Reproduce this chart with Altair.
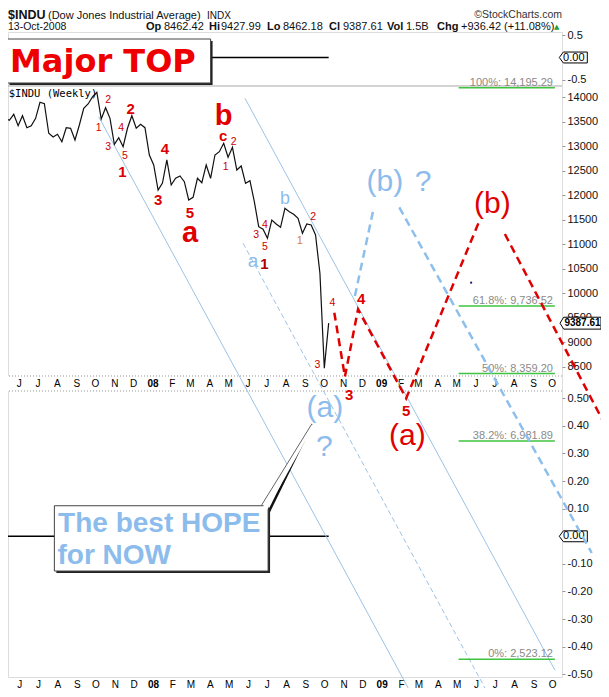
import altair as alt
import pandas as pd

# ---------------- values ----------------
FIRST_WEEK = "2007-05-14"
WEEKLY_CLOSE = [13571, 13530, 13653, 13420, 13624, 13379, 13420, 13571, 13898, 13869,
                13265, 13189, 13244, 13093, 13379, 13367, 13128, 13434, 13775, 13863,
                14006, 14102, 13557, 13788, 13571, 13040, 13175, 12991, 13367, 13624,
                13367, 13449, 13379, 12822, 12618, 12107, 12250, 12720, 12209, 12346,
                12393, 12277, 11903, 11958, 12346, 12256, 12618, 12346, 12822, 12889,
                13061, 12775, 12979, 12515, 12597, 12244, 12297, 11868, 11358, 11305,
                11121, 11494, 11413, 11345, 11733, 11664, 11611, 11529, 11223, 11413,
                11392, 11188, 10406, 8466, 9387.61]
WEEK_DATES = pd.date_range(FIRST_WEEK, periods=len(WEEKLY_CLOSE), freq="7D").strftime("%Y-%m-%d").tolist()
LAST_DATE = WEEK_DATES[-1]
LAST_CLOSE = 9387.61

FIB_LEVELS = [14195.29, 9736.52, 8359.20, 6981.89, 2523.12]
FIB_TEXT = ["100%: 14,195.29", "61.8%: 9,736.52", "50%: 8,359.20", "38.2%: 6,981.89", "0%: 2,523.12"]
FIB_FROM, FIB_TO, FIB_TEXT_AT = "2009-05-09", "2009-10-10", "2009-10-07"

CHANNEL_A = [("2007-10-11", 13604), ("2009-02-19", 1897)]
CHANNEL_B = [("2008-06-01", 13980), ("2009-10-10", 2305)]
CHANNEL_C = [("2008-05-29", 11019), ("2009-06-28", 1754)]

RED_PATH_1 = [("2008-10-22", 9602), ("2008-11-08", 8295), ("2008-11-29", 9671),
              ("2009-02-14", 7853), ("2009-06-10", 11439)]
RED_PATH_2 = [("2009-07-22", 11209), ("2010-01-01", 7247)]
BLUE_PATH_1 = [("2008-11-24", 9943), ("2008-12-24", 11733)]
BLUE_PATH_2 = [("2009-02-03", 11754), ("2009-12-08", 4695)]

SMALL_RED = [("1", "2007-10-11", 13367), ("2", "2007-10-26", 13945), ("3", "2007-10-26", 12991),
             ("4", "2007-11-16", 13367), ("5", "2007-11-22", 12807), ("2", "2008-05-14", 13093),
             ("1", "2008-05-01", 12583), ("3", "2008-06-19", 11188), ("4", "2008-07-03", 11392),
             ("5", "2008-07-03", 10949), ("2", "2008-09-18", 11550), ("3", "2008-09-25", 8534),
             ("4", "2008-10-19", 9793)]
BOLD_RED = [("1", "2007-11-18", 12481), ("2", "2007-12-01", 13761), ("3", "2008-01-14", 11903),
            ("4", "2008-01-25", 12948), ("5", "2008-03-05", 11640), ("c", "2008-04-27", 13204),
            ("4", "2008-12-04", 9875), ("3", "2008-11-15", 7921), ("5", "2009-02-14", 7600)]
BIG_RED = [("a", "2008-03-05", 11220), ("b", "2008-04-28", 13620)]
PAREN_RED = [("(a)", "2009-02-16", 7090), ("(b)", "2009-07-02", 11817)]
BLUE_BIG = [("(b)", "2009-01-11", 12277), ("?", "2009-03-13", 12275),
            ("(a)", "2008-10-07", 7649), ("?", "2008-10-06", 6863)]
BLUE_A = [("a", "2008-06-14", 10659)]
BLUE_B = [("b", "2008-08-04", 11931)]
DARK_RED = [("1", "2008-07-02", 10600)]
ORANGE = [("1", "2008-08-28", 11072)]
WEEKLY_TAG = [("$INDU (Weekly)", "2007-05-20", 14012)]
DOT = [("2009-05-29", 10214)]

MAJOR_BOX = [("2007-05-18", "2008-04-07", 14292, 15190)]
MAJOR_TEXT = [("Major TOP", "2007-05-22", 14523)]
HOPE_BOX = [("2007-08-01", "2008-07-08", 4327, 5660)]
HOPE_TEXT = [("The best HOPE", "2007-08-07", 5130), ("for NOW", "2007-08-06", 4470)]
CALLOUT_LEFT = [("2008-06-27", 5660), ("2008-09-16", 7329)]
CALLOUT_MID = [("2008-07-02", 5583), ("2008-09-16", 7329)]
CALLOUT_RIGHT = [("2008-07-08", 5505), ("2008-09-16", 7329)]

PANEL_SPLIT = 14231          # border between top panel and price panel
STRIP = (8003, 8309, 8146)   # middle date strip (bottom, top, label level)
PRICE_TICKS = list(range(8500, 14001, 500))
TOP_TICKS = [0.5, -0.5]
BOTTOM_TICKS = [0.5, 0.4, 0.3, 0.2, 0.1, -0.1, -0.2, -0.3, -0.4, -0.5]

MONTHS = pd.date_range("2007-06-01", "2009-10-01", freq="MS")

# ---------------- layout ----------------
W, H = 554, 645
FONT = "Liberation Sans"
RED = "#e00000"
LBLUE = "#8cbcec"

XS = alt.Scale(type="utc", domain=[alt.DateTime(year=2007, month=5, date=18, hours=19, utc=True),
                                   alt.DateTime(year=2009, month=10, date=21, hours=10, utc=True)])
XAXIS = alt.Axis(title=None, orient="bottom",
                 values=[alt.DateTime(year=int(m.year), month=int(m.month), date=1, utc=True) for m in MONTHS],
                 labelExpr="utcmonth(datum.value) == 0 ? utcFormat(datum.value, '%y') : slice(utcFormat(datum.value, '%b'), 0, 1)",
                 labelFontWeight={"condition": {"test": "utcmonth(datum.value) == 0", "value": "bold"}, "value": "normal"},
                 labelFont=FONT, labelFontSize=10, labelColor="#000", labelOffset=3, labelPadding=2,
                 labelAngle=0, labelOverlap=False, labelFlush=False, ticks=False, domain=False, grid=False)

PS = alt.Scale(domain=[2163, 15333], nice=False, zero=False)
PAXIS = alt.Axis(title=None, orient="right", values=PRICE_TICKS, format="d", labelAlign="left",
                 labelBaseline="middle", labelFont=FONT, labelFontSize=11, labelColor="#111",
                 tickSize=3, tickColor="#999", labelPadding=2, domain=False, grid=False,
                 labelOverlap=False, labelFlush=False)
TS = alt.Scale(domain=[-13.771, 0.567], nice=False, zero=False)
TAXIS = alt.Axis(title=None, orient="right", values=TOP_TICKS,
                 labelExpr="(datum.value < 0 ? '-' : '') + format(abs(datum.value), '.1f')",
                 labelAlign="left", labelBaseline="middle", labelFont=FONT, labelFontSize=11,
                 labelColor="#111", tickSize=3, tickColor="#999", labelPadding=2, domain=False,
                 grid=False, labelOverlap=False, labelFlush=False)
BS = alt.Scale(domain=[-0.5098, 1.827], nice=False, zero=False)
BAXIS = alt.Axis(title=None, orient="right", values=BOTTOM_TICKS,
                 labelExpr="(datum.value < 0 ? '-' : '') + format(abs(datum.value), '.2f')",
                 labelAlign="left", labelBaseline="middle", labelFont=FONT, labelFontSize=11,
                 labelColor="#111", tickSize=3, tickColor="#999", labelPadding=2, domain=False,
                 grid=False, labelOverlap=False, labelFlush=False)


def X(f="d"):
    return alt.X(f"{f}:T", scale=XS, axis=XAXIS)


def Y(f="p"):
    return alt.Y(f"{f}:Q", scale=PS, axis=PAXIS)


def path(points, **mk):
    df = pd.DataFrame(points, columns=["d", "p"])
    return alt.Chart(df).mark_line(**mk).encode(x=X(), y=Y())


def labels(rows, **mk):
    df = pd.DataFrame(rows, columns=["t", "d", "p"])
    style = dict(font=FONT, align="center", baseline="middle")
    style.update(mk)
    return alt.Chart(df).mark_text(**style).encode(x=X(), y=Y(), text="t:N")


def box(rows, **mk):
    df = pd.DataFrame(rows, columns=["d", "d2", "p", "p2"])
    return alt.Chart(df).mark_rect(**mk).encode(x=X(), x2=alt.X2("d2"), y=Y(), y2=alt.Y2("p2"))


def header(s, x, y, **mk):
    style = dict(font=FONT, align="left", baseline="alphabetic", fontSize=11, color="#111")
    style.update(mk)
    return alt.Chart(pd.DataFrame({"t": [s]})).mark_text(**style).encode(
        x=alt.value(x), y=alt.value(y), text="t:N")


TAG_SMALL = "M-1,0L-0.71,-0.39L1,-0.39L1,0.39L-0.71,0.39Z"
TAG_BIG = "M-1,0L-0.82,-0.29L1,-0.29L1,0.29L-0.82,0.29Z"

# ---------------- indicator panels ----------------
ind_df = pd.DataFrame({"d": [FIRST_WEEK, LAST_DATE], "v": [0.0, 0.0]})
zero_df = pd.DataFrame({"v": [0.0], "t": ["0.00"]})


def indicator(scale, axis):
    yy = alt.Y("v:Q", scale=scale, axis=axis)
    line = alt.Chart(ind_df).mark_line(color="#000", strokeWidth=1.5).encode(x=X(), y=yy)
    tag = alt.Chart(zero_df).mark_point(shape=TAG_SMALL, size=784, filled=True, fill="white",
                                        stroke="#000", strokeWidth=1, opacity=1).encode(
        x=alt.value(W + 11.3), y=yy)
    txt = alt.Chart(zero_df).mark_text(font=FONT, fontSize=11, color="#000", align="center",
                                       baseline="middle").encode(x=alt.value(W + 11.8), y=yy, text="t:N")
    return alt.layer(line, tag, txt)


top_panel = indicator(TS, TAXIS)
bottom_panel = indicator(BS, BAXIS)

# ---------------- price panel ----------------
price_df = pd.DataFrame({"d": WEEK_DATES, "p": WEEKLY_CLOSE})
fib_df = pd.DataFrame({"p": FIB_LEVELS, "t": FIB_TEXT, "d": FIB_FROM, "d2": FIB_TO, "dt": FIB_TEXT_AT})
strip_df = pd.DataFrame({"p": [STRIP[0]], "p2": [STRIP[1]]})
strip_lines = pd.DataFrame({"p": [STRIP[0], STRIP[1]]})
month_df = pd.DataFrame({
    "d": MONTHS.strftime("%Y-%m-%d"),
    "t": [m.strftime("%y") if m.month == 1 else m.strftime("%b")[0] for m in MONTHS],
    "bold": [m.month == 1 for m in MONTHS],
    "p": STRIP[2],
})

layers = []
layers.append(alt.Chart(pd.DataFrame({"p": [PANEL_SPLIT]})).mark_rule(color="#a8a8a8", strokeWidth=1)
              .encode(y=Y()))
layers.append(alt.Chart(strip_df).mark_rect(color="white")
              .encode(x=alt.value(0), x2=alt.value(W), y=Y(), y2=alt.Y2("p2")))
layers.append(alt.Chart(strip_lines).mark_rule(color="#999", strokeDash=[1, 2], strokeWidth=1)
              .encode(y=Y()))
for flag, weight in [(False, "normal"), (True, "bold")]:
    layers.append(alt.Chart(month_df[month_df["bold"] == flag]).mark_text(
        font=FONT, fontSize=10, color="#000", dx=3, fontWeight=weight, baseline="middle")
        .encode(x=X(), y=Y(), text="t:N"))

layers.append(path(CHANNEL_A, color="#9cc3e6", strokeWidth=1))
layers.append(path(CHANNEL_B, color="#9cc3e6", strokeWidth=1))
layers.append(path(CHANNEL_C, color="#9cc3e6", strokeWidth=1, strokeDash=[5, 3]))

layers.append(alt.Chart(fib_df).mark_rule(color="#3ec43e", strokeWidth=1.5)
              .encode(x=X(), x2=alt.X2("d2"), y=Y()))
layers.append(alt.Chart(fib_df).mark_text(font=FONT, fontSize=11, color="#8a8a8a", align="right",
                                          baseline="alphabetic", dy=-2)
              .encode(x=X("dt"), y=Y(), text="t:N"))

layers.append(alt.Chart(price_df).mark_line(color="#111", strokeWidth=1.2).encode(x=X(), y=Y()))

layers.append(labels(WEEKLY_TAG, font="DejaVu Sans Mono", fontSize=10.5, color="#000",
                     align="left", baseline="alphabetic"))
layers.append(labels(SMALL_RED, fontSize=10.5, color="#cc0000"))
layers.append(labels(BOLD_RED, fontSize=15, fontWeight="bold", color="#dd0000"))
layers.append(labels(BIG_RED, fontSize=29, fontWeight="bold", color="#e00000"))
layers.append(labels(DARK_RED, fontSize=15, fontWeight="bold", color="#b00000"))
layers.append(labels(ORANGE, fontSize=11, color="#d9822b"))
layers.append(labels(BLUE_A, fontSize=19, color=LBLUE))
layers.append(labels(BLUE_B, fontSize=18, color=LBLUE))

layers.append(path(BLUE_PATH_1, color="#8dbfec", strokeWidth=2.5, strokeDash=[8, 5]))
layers.append(path(BLUE_PATH_2, color="#8dbfec", strokeWidth=2.5, strokeDash=[8, 5]))
layers.append(path(RED_PATH_1, color=RED, strokeWidth=2.5, strokeDash=[8, 5]))
layers.append(path(RED_PATH_2, color=RED, strokeWidth=2.5, strokeDash=[8, 5]))

layers.append(labels(PAREN_RED, fontSize=30, color=RED))
layers.append(labels(BLUE_BIG, fontSize=30, color=LBLUE))

# "Major TOP" note
layers.append(box(MAJOR_BOX, color="#222", xOffset=2, x2Offset=2, yOffset=2, y2Offset=2))
layers.append(box(MAJOR_BOX, fill="white", stroke="#444", strokeWidth=1))
layers.append(labels(MAJOR_TEXT, font="DejaVu Sans", fontSize=32, fontWeight="bold", color="#ee0000",
                     align="left", baseline="alphabetic"))

# "The best HOPE" note with callout
layers.append(path(CALLOUT_RIGHT, color="#111", strokeWidth=2.5))
layers.append(box(HOPE_BOX, color="#222", xOffset=2, x2Offset=2, yOffset=2, y2Offset=2))
layers.append(box(HOPE_BOX, fill="white", stroke="#444", strokeWidth=1))
layers.append(path(CALLOUT_MID, color="white", strokeWidth=5))
layers.append(path(CALLOUT_LEFT, color="#666", strokeWidth=1))
layers.append(labels(HOPE_TEXT, fontSize=28, fontWeight="bold", color=LBLUE,
                     align="left", baseline="alphabetic"))

layers.append(alt.Chart(pd.DataFrame(DOT, columns=["d", "p"])).mark_circle(size=5, color="#1a1a80", opacity=1)
              .encode(x=X(), y=Y()))

# last-price tag on the price axis
last_df = pd.DataFrame({"p": [LAST_CLOSE], "t": [f"{LAST_CLOSE:.2f}"]})
layers.append(alt.Chart(last_df).mark_point(shape=TAG_BIG, size=1681, filled=True, fill="white",
                                            stroke="#000", strokeWidth=1, opacity=1)
              .encode(x=alt.value(W + 18.5), y=Y()))
layers.append(alt.Chart(last_df).mark_text(font=FONT, fontSize=10, fontWeight="bold", color="#000",
                                           align="center", baseline="middle")
              .encode(x=alt.value(W + 20.5), y=Y(), text="t:N"))

# header lines
R1, R2 = -13, -2.5
layers += [
    header("$INDU", 0, R1, fontSize=12.5, fontWeight="bold"),
    header("(Dow Jones Industrial Average)", 40, R1, fontSize=11),
    header("INDX", 199, R1, fontSize=10),
    header("\u00a9StockCharts.com", W, R1 - 1.5, fontSize=10.5, align="right", color="#333"),
    header("13-Oct-2008", 0, R2, fontSize=10.5),
    header("Op", 138, R2, fontWeight="bold"), header("8462.42", 156, R2),
    header("Hi", 201, R2, fontWeight="bold"), header("9427.99", 213, R2),
    header("Lo", 259, R2, fontWeight="bold"), header("8462.18", 275, R2),
    header("Cl", 321, R2, fontWeight="bold"), header("9387.61", 335, R2),
    header("Vol", 379, R2, fontWeight="bold"), header("1.5B", 398, R2),
    header("Chg", 429, R2, fontWeight="bold"), header("+936.42 (+11.08%)", 453, R2),
    header("\u25b2", 546, R2 - 1, font="DejaVu Sans", fontSize=7, color="#2a9d2a"),
]

price_panel = alt.layer(*layers)

chart = (
    alt.layer(top_panel, bottom_panel, price_panel)
    .resolve_scale(y="independent")
    .properties(width=W, height=H,
                autosize=alt.AutoSizeParams(type="none"),
                padding={"left": 0, "top": 24, "right": 39, "bottom": 11})
    .configure_view(fill="#f4f4f4", stroke="#a8a8a8", strokeWidth=1)
    .configure(background="white")
)

chart.save("out.html", embed_options={"renderer": "svg", "actions": False})
